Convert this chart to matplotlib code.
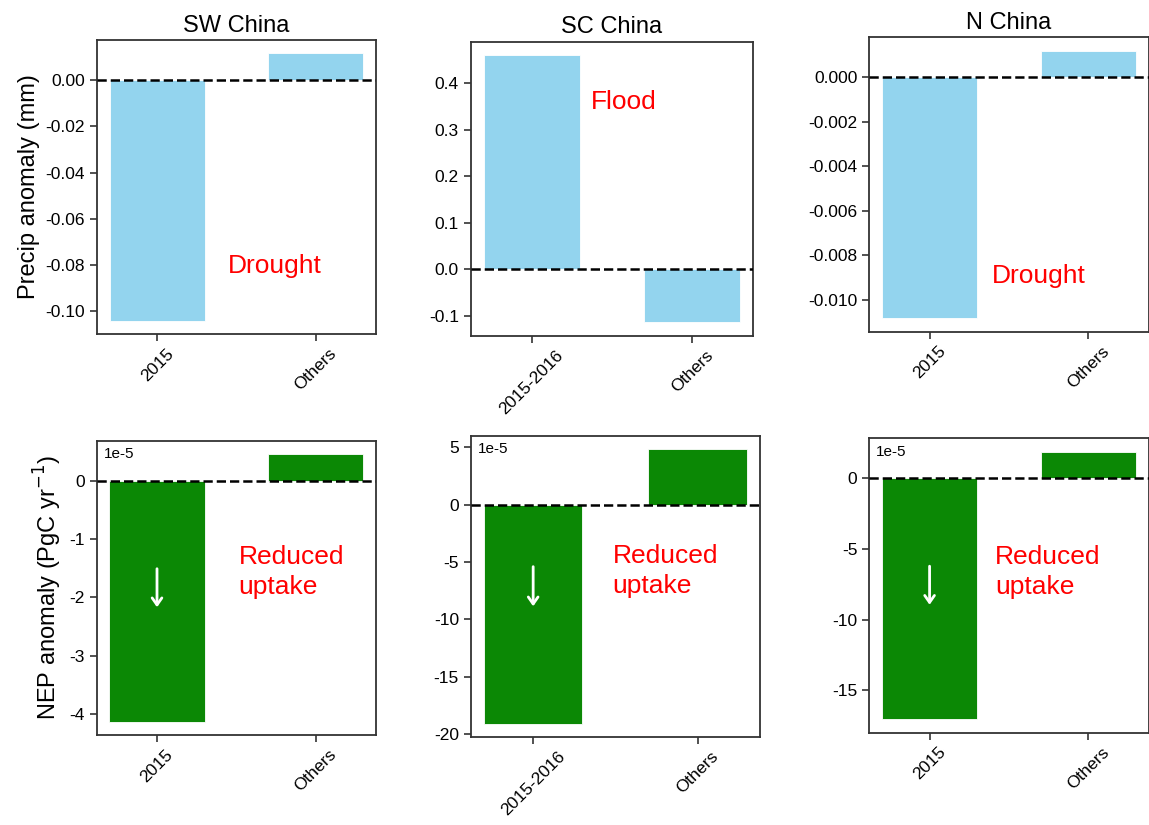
import matplotlib
matplotlib.use('Agg')
import matplotlib.pyplot as plt

plt.rcParams['font.family'] = ['Liberation Sans', 'DejaVu Sans']
plt.rcParams['axes.unicode_minus'] = False

# data
regions = ['SW China', 'SC China', 'N China']
events = ['2015', '2015-2016', '2015']
others = 'Others'
precip_event = [-0.104, 0.461, -0.01084]
precip_others = [0.0116, -0.114, 0.0012]
# NEP in units of 1e-5 PgC/yr
nep_event = [-4.13, -19.1, -17.05]
nep_others = [0.454, 4.83, 1.89]
labels_top = ['Drought', 'Flood', 'Drought']

blue = '#93d4ee'
green = '#0b8805'

W, H = 1149, 825
fig = plt.figure(figsize=(W / 100, H / 100), dpi=100)


def px_axes(x0, y0, x1, y1):
    return fig.add_axes([x0 / W, 1 - y1 / H, (x1 - x0) / W, (y1 - y0) / H])


top_rects = [(97, 40, 376, 334), (470.7, 41.7, 753.3, 335.7), (869.3, 37.3, 1148.5, 331.7)]
bot_rects = [(96.7, 441, 376, 735), (470.7, 435.7, 760, 737.3), (869.3, 438.3, 1148.5, 732.7)]

# annotation positions (data coords)
top_txt = [(0.445, -0.0802), (0.371, 0.360), (0.393, -0.00893)]
bot_txt = [(0.514, -1.56), (0.484, -5.77), (0.412, -6.62)]


def style(ax):
    for s in ax.spines.values():
        s.set_linewidth(1.3)
        s.set_color('#333333')
    ax.tick_params(axis='both', labelsize=12.5, length=5, width=1.2, color='#333333')
    ax.axhline(0, color='black', ls='--', lw=1.8, zorder=3)


for i in range(3):
    cats = [events[i], others]

    ax = px_axes(*top_rects[i])
    ax.bar([0, 1], [precip_event[i], precip_others[i]], width=0.6, color=blue,
           edgecolor='white', linewidth=0.6)
    style(ax)
    ax.set_xticks([0, 1])
    ax.set_xticklabels(cats, rotation=45)
    ax.set_title(regions[i], fontsize=17)
    ax.text(top_txt[i][0], top_txt[i][1], labels_top[i], color='red', fontsize=19,
            ha='left', va='center')
    if i == 0:
        ax.set_ylabel('Precip anomaly (mm)', fontsize=17)

    ax = px_axes(*bot_rects[i])
    ax.bar([0, 1], [nep_event[i], nep_others[i]], width=0.6, color=green,
           edgecolor='white', linewidth=0.6)
    style(ax)
    ax.set_xticks([0, 1])
    ax.set_xticklabels(cats, rotation=45)
    ax.text(0.025, 0.955, '1e-5', transform=ax.transAxes, fontsize=11,
            ha='left', va='center')
    ax.text(bot_txt[i][0], bot_txt[i][1], 'Reduced\nuptake', color='red', fontsize=19,
            ha='left', va='center', linespacing=1.3)
    ax.annotate('', xy=(0, 0.425), xytext=(0, 0.575), xycoords=('data', 'axes fraction'),
                arrowprops=dict(arrowstyle='->,head_length=0.5,head_width=0.35',
                                color='white', lw=2))
    if i == 0:
        ax.set_ylabel('NEP anomaly (PgC yr$^{-1}$)', fontsize=17)

fig.savefig('out.png', dpi=100)
